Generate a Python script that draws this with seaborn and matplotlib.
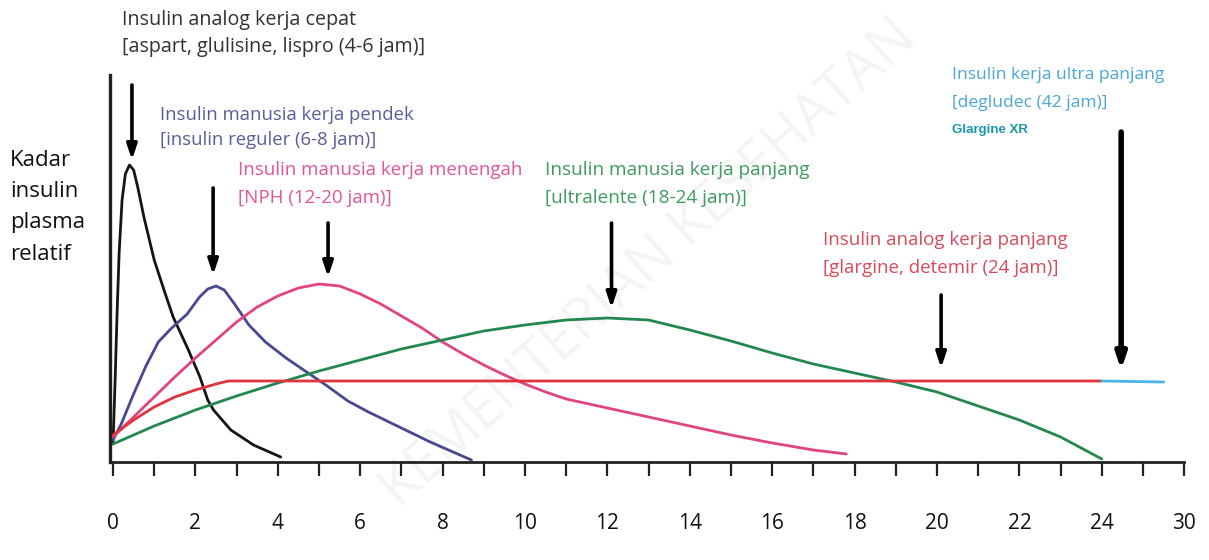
import pandas as pd
import seaborn as sns
from matplotlib import pyplot as plt

# time (jam) and relative plasma level
rapid_x = [0, 0.05, 0.1, 0.15, 0.22, 0.3, 0.4, 0.5, 0.6, 0.75, 1.0, 1.27, 1.46, 1.83, 2.11, 2.3, 2.44, 2.86, 3.41, 4.07]
rapid_y = [18, 80, 150, 210, 262, 288, 297, 292, 275, 245, 202, 168, 145, 112, 85, 62, 52, 32, 17, 5]

short_x = [0, 0.2, 0.5, 0.8, 1.1, 1.4, 1.8, 2.1, 2.3, 2.5, 2.7, 2.95, 3.3, 3.7, 4.2, 4.7, 5.2, 5.7, 6.2, 6.7, 7.2, 7.7, 8.2, 8.7]
short_y = [22, 38, 68, 96, 120, 133, 148, 165, 173, 176, 172, 158, 137, 120, 104, 90, 76, 61, 50, 40, 30, 20, 11, 2]

nph_x = [0, 0.5, 1, 1.5, 2, 2.5, 3, 3.5, 4, 4.5, 5, 5.5, 6, 6.5, 7, 7.5, 8, 8.5, 9, 9.5, 10, 10.5, 11, 12, 13, 14, 15, 16, 17, 17.8]
nph_y = [25, 45, 65, 85, 104, 122, 140, 155, 166, 174, 178, 176, 168, 158, 146, 134, 120, 108, 97, 87, 78, 70, 63, 54, 45, 36, 27, 19, 12, 8]

ultralente_x = [0, 1, 2, 3, 4, 5, 6, 7, 8, 9, 10, 11, 12, 13, 14, 15, 16, 17, 18, 19, 20, 21, 22, 23, 24]
ultralente_y = [18, 36, 52, 66, 79, 91, 102, 113, 122, 131, 137, 142, 144, 142, 132, 121, 109, 98, 89, 80, 70, 56, 42, 25, 3]

glargine_x = [0, 0.5, 1, 1.5, 2, 2.5, 2.8, 10, 20, 24.0]
glargine_y = [27, 42, 55, 65, 72, 78, 81, 81, 81, 81]

degludec_x = [24.0, 25.5]
degludec_y = [81, 80]

# downward arrows: x, top, tip
arrow_x = [0.46, 2.43, 5.22, 12.1, 20.1, 24.47]
arrow_top = [377, 274, 239, 239, 167, 330]
arrow_tip = [302, 187, 185, 154, 94, 92]

tick_pos = list(range(27))
tick_labels = [str(t) if t % 2 == 0 else '' for t in range(26)] + ['30']

sns.set_style('white')
plt.rcParams['font.family'] = ['Open Sans', 'DejaVu Sans']

W, H = 1209, 560
fig = plt.figure(figsize=(W / 100, H / 100), dpi=100)
ax = fig.add_axes([100 / W, 1 - 462 / H, 1090 / W, 392 / H])
ax.set_facecolor('none')

curves = [
    (rapid_x, rapid_y, '#151515'),
    (short_x, short_y, '#47488f'),
    (nph_x, nph_y, '#e0457f'),
    (ultralente_x, ultralente_y, '#23884f'),
    (glargine_x, glargine_y, '#e0333f'),
    (degludec_x, degludec_y, '#4ab6e6'),
]
for xs, ys, c in curves:
    d = pd.DataFrame({'jam': xs, 'kadar': ys})
    sns.lineplot(data=d, x='jam', y='kadar', color=c, lw=2.0, ax=ax)

for x, top, tip in zip(arrow_x, arrow_top, arrow_tip):
    lw = 4 if x > 24 else 2.6
    ax.annotate('', xy=(x, tip), xytext=(x, top),
                arrowprops=dict(arrowstyle='-|>,head_length=0.9,head_width=0.3',
                                lw=lw, color='black', shrinkA=0, shrinkB=0))

ax.set_xlim((100 - 113) / 41.2, (1190 - 113) / 41.2)
ax.set_ylim(0, 392)
ax.set_xlabel('')
ax.set_ylabel('')
ax.set_yticks([])
ax.set_xticks(tick_pos)
ax.set_xticklabels(tick_labels, fontsize=15)
ax.tick_params(axis='x', bottom=True, direction='out', length=10, width=1.6, pad=27,
               color='#222222', labelcolor='#111111')
for s in ['top', 'right']:
    ax.spines[s].set_visible(False)
ax.spines['left'].set_position(('data', -0.07))
ax.spines['left'].set_bounds(0, 387)
ax.spines['left'].set_linewidth(2.4)
ax.spines['left'].set_color('#222222')
ax.spines['bottom'].set_bounds(-0.07, 26)
ax.spines['bottom'].set_linewidth(2.0)
ax.spines['bottom'].set_color('#222222')

# faint watermark behind everything
fig.text(650 / W, 1 - 265 / H, 'KEMENTERIAN KESEHATAN', fontsize=40, color='#f4f4f4',
         rotation=42, ha='center', va='center', zorder=-1)


def label(px, py, s, color, size=13.3, **kw):
    fig.text(px / W, 1 - py / H, s, color=color, fontsize=size, va='center', ha='left', **kw)


label(122, 20, 'Insulin analog kerja cepat', '#333333', size=14.2)
label(122, 47, '[aspart, glulisine, lispro (4-6 jam)]', '#333333', size=14.2)
label(160, 115, 'Insulin manusia kerja pendek', '#5b5e9a')
label(160, 140, '[insulin reguler (6-8 jam)]', '#5b5e9a')
label(238, 170, 'Insulin manusia kerja menengah', '#e0559a', size=13.5)
label(238, 198, '[NPH (12-20 jam)]', '#e0559a', size=13.5)
label(545, 170, 'Insulin manusia kerja panjang', '#3f9a60', size=13.7)
label(545, 198, '[ultralente (18-24 jam)]', '#3f9a60', size=13.7)
label(823, 240, 'Insulin analog kerja panjang', '#d94a5c', size=13.5)
label(823, 268, '[glargine, detemir (24 jam)]', '#d94a5c', size=13.5)
label(952, 75, 'Insulin kerja ultra panjang', '#4aa6d2', size=12.6)
label(952, 103, '[degludec (42 jam)]', '#4aa6d2', size=12.6)
label(952, 130, 'Glargine XR', '#1a97a8', size=9.5, family=['Liberation Sans'], fontweight='bold')

for i, s in enumerate(['Kadar', 'insulin', 'plasma', 'relatif']):
    label(10, 160 + 31.5 * i, s, '#111111', size=16)

fig.savefig('out.png', dpi=100, facecolor='white')
